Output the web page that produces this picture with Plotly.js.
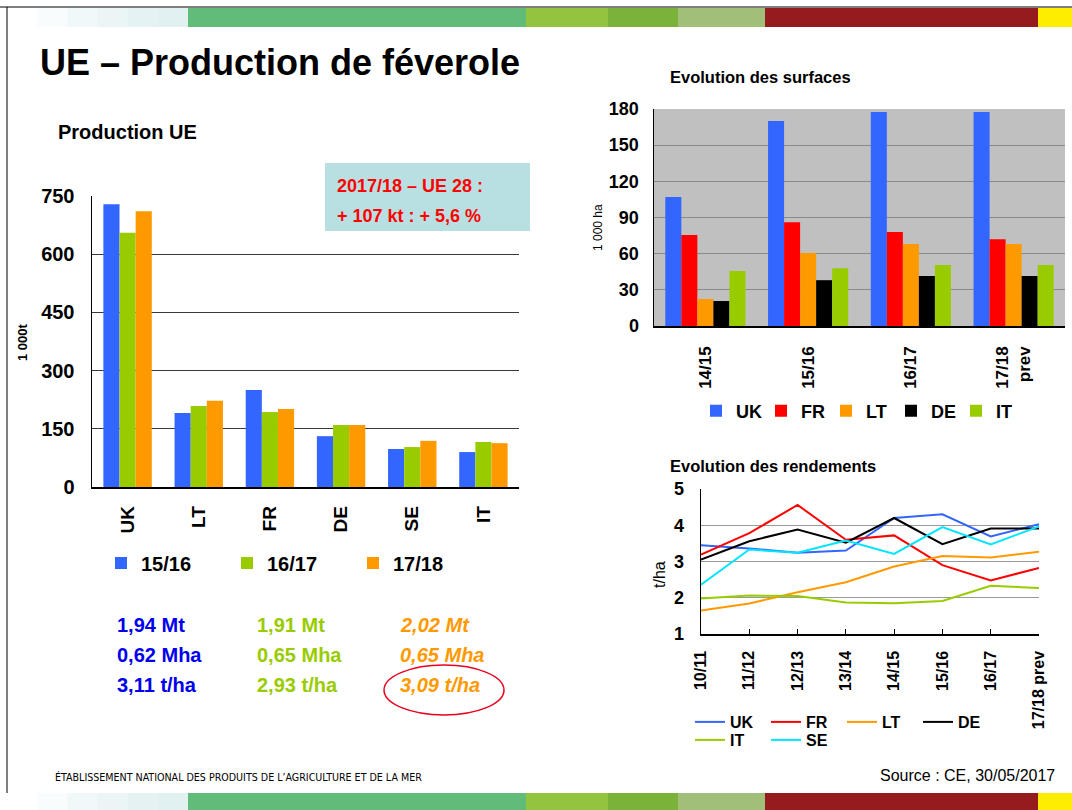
<!DOCTYPE html>
<html>
<head>
<meta charset="utf-8">
<script src="https://cdn.plot.ly/plotly-3.0.1.min.js"></script>
<style>html,body{margin:0;padding:0;background:#fff;}#chart{width:1072px;height:810px;}</style>
</head>
<body>
<div id="chart"></div>
<script>
// ---- Production UE (1 000 t)
const prodCountries = ['UK','LT','FR','DE','SE','IT'];
const prodSeasons = ['15/16','16/17','17/18'];
const prod1516 = [729,191,250,131,98,90];
const prod1617 = [655,209,193,160,103,116];
const prod1718 = [711,222,201,160,119,113];
const prodTicks = [0,150,300,450,600,750];

// ---- Evolution des surfaces (1 000 ha)
const surfYears = ['14/15','15/16','16/17','17/18<br>prev'];
const surfCountries = ['UK','FR','LT','DE','IT'];
const surfUK = [107,170,177.5,177.5];
const surfFR = [75.5,86,78,72];
const surfLT = [22.4,60.6,68,68];
const surfDE = [20.7,38,41.5,41.5];
const surfIT = [45.6,48,50.5,50.5];
const surfTicks = [0,30,60,90,120,150,180];

// ---- Evolution des rendements (t/ha)
const rendYears = ['10/11','11/12','12/13','13/14','14/15','15/16','16/17','17/18 prev'];
const rendCountries = ['UK','FR','LT','DE','IT','SE'];
const rendUK = [3.45,3.36,3.24,3.30,4.20,4.30,3.69,4.03];
const rendFR = [3.19,3.78,4.56,3.60,3.72,2.90,2.48,2.82];
const rendLT = [1.65,1.84,2.15,2.43,2.86,3.15,3.11,3.27];
const rendDE = [3.05,3.56,3.88,3.52,4.20,3.48,3.91,3.91];
const rendIT = [1.98,2.06,2.05,1.87,1.85,1.91,2.33,2.27];
const rendSE = [2.36,3.33,3.24,3.58,3.21,3.95,3.47,3.97];
const rendTicks = [1,2,3,4,5];

// ---- Summary figures
const sumProd = ['1,94 Mt','1,91 Mt','2,02 Mt'];
const sumSurf = ['0,62 Mha','0,65 Mha','0,65 Mha'];
const sumYield = ['3,11 t/ha','2,93 t/ha','3,09 t/ha'];

// ---- helpers (pixel -> paper)
const W = 1072, H = 810;
const X = p => p / W;
const Y = p => 1 - p / H;
const FONT = 'Liberation Sans, Arial, sans-serif';

const cBlue = '#3366ff', cGreen = '#99cc00', cOrange = '#ff9900', cRed = '#ff0000', cBlack = '#000000', cCyan = '#00e5ff';

const traces = [];
// Production
[[prod1516, cBlue],[prod1617, cGreen],[prod1718, cOrange]].forEach((s, i) => {
  traces.push({type:'bar', x: prodCountries, y: s[0], name: prodSeasons[i], marker:{color:s[1], line:{width:0}},
    xaxis:'x', yaxis:'y', legend:'legend'});
});
// Surfaces
const surfCols = [cBlue, cRed, cOrange, cBlack, cGreen];
[surfUK, surfFR, surfLT, surfDE, surfIT].forEach((s, i) => {
  traces.push({type:'bar', x: surfYears, y: s, name: surfCountries[i], marker:{color:surfCols[i], line:{width:0}},
    width: 0.156, offset: -0.39 + i*0.156, xaxis:'x2', yaxis:'y2', legend:'legend2'});
});
// Rendements
const rendCols = [cBlue, cRed, cOrange, cBlack, cGreen, cCyan];
[rendUK, rendFR, rendLT, rendDE, rendIT, rendSE].forEach((s, i) => {
  traces.push({type:'scatter', mode:'lines', x: rendYears, y: s, name: rendCountries[i],
    line:{color:rendCols[i], width:2}, xaxis:'x3', yaxis:'y3', legend: i < 4 ? 'legend3' : 'legend4'});
});

const shapes = [];
// top/bottom decorative bands
const bandSegs = [[188,526,'#62bc79'],[526,608,'#92c43e'],[608,678,'#7bb239'],[678,765,'#a2bf7a'],[765,1038,'#961b1f'],[1038,1072,'#ffed00']];
const gradCols = ['#ffffff','#f8fcfc','#f1f8f9','#ebf5f6','#e5f2f3','#e1f0f1'];
[[8,27],[793,810]].forEach(b => {
  gradCols.forEach((c, k) => {
    const x0 = 7 + k*(181/6), x1 = 7 + (k+1)*(181/6) + 0.5;
    shapes.push({type:'rect', xref:'paper', yref:'paper', x0:X(x0), x1:X(x1), y0:Y(b[1]), y1:Y(b[0]), fillcolor:c, line:{width:0}, layer:'below'});
  });
  bandSegs.forEach(s => shapes.push({type:'rect', xref:'paper', yref:'paper', x0:X(s[0]), x1:X(s[1]), y0:Y(b[1]), y1:Y(b[0]), fillcolor:s[2], line:{width:0}, layer:'below'}));
});
// frame lines
shapes.push({type:'line', xref:'paper', yref:'paper', x0:0, x1:1, y0:Y(7), y1:Y(7), line:{color:'#000', width:1}});
shapes.push({type:'line', xref:'paper', yref:'paper', x0:X(7), x1:X(7), y0:Y(7), y1:Y(793), line:{color:'#000', width:1}});
// gray background of surfaces chart
shapes.push({type:'rect', xref:'x2 domain', yref:'y2 domain', x0:0, x1:1, y0:0, y1:1, fillcolor:'#c0c0c0', line:{width:0}, layer:'below'});
// info box
shapes.push({type:'rect', xref:'paper', yref:'paper', x0:X(325), x1:X(530), y0:Y(231), y1:Y(163), fillcolor:'#b8e0e2', line:{width:0}, layer:'above'});
// red ellipse
shapes.push({type:'circle', xref:'paper', yref:'paper', x0:X(384), x1:X(504), y0:Y(715), y1:Y(665), line:{color:'#e8001c', width:1.5}, layer:'above'});

const ann = (text, px, py, opts) => Object.assign({text, xref:'paper', yref:'paper', x:X(px), y:Y(py), xanchor:'left', yanchor:'middle', showarrow:false,
  font:{family:FONT, size:14, color:'#000'}}, opts || {});

const annotations = [
  ann('UE – Production de féverole', 38, 63, {font:{family:FONT, size:36, color:'#000', weight:'bold'}}),
  ann('Production UE', 56, 132, {font:{family:FONT, size:20, color:'#000', weight:'bold'}}),
  ann('Evolution des surfaces', 668, 77, {font:{family:FONT, size:16.5, color:'#000', weight:'bold'}}),
  ann('Evolution des rendements', 668, 466, {font:{family:FONT, size:16.5, color:'#000', weight:'bold'}}),
  ann('2017/18 – UE 28 :', 335, 186, {font:{family:FONT, size:18, color:'#ff0000', weight:'bold'}}),
  ann('+ 107 kt : + 5,6 %', 335, 216, {font:{family:FONT, size:18, color:'#ff0000', weight:'bold'}}),
  ann('1 000t', 22, 342, {xanchor:'center', textangle:-90, font:{family:FONT, size:13, color:'#000', weight:'bold'}}),
  ann('1 000 ha', 598, 228, {xanchor:'center', textangle:-90, font:{family:FONT, size:12, color:'#000'}}),
  ann('t/ha', 659, 575, {xanchor:'center', textangle:-90, font:{family:FONT, size:16, color:'#000'}}),
  ann('ÉTABLISSEMENT NATIONAL DES PRODUITS DE L\u2019AGRICULTURE ET DE LA MER', 53, 777, {font:{family:'Liberation Sans Narrow, DejaVu Sans Condensed, sans-serif', size:10.6, color:'#000'}}),
  ann('Source : CE, 30/05/2017', 878, 775, {font:{family:FONT, size:16, color:'#000'}})
];
const sumCols = ['#0000ee', '#99cc00', '#ff9900'];
const sumX = [115, 255, 398];
[sumProd, sumSurf, sumYield].forEach((row, r) => {
  row.forEach((t, c) => {
    annotations.push(ann(c === 2 ? '<i>' + t + '</i>' : t, sumX[c], 625 + r*30,
      {font:{family:FONT, size:20, color:sumCols[c], weight:'bold'}}));
  });
});

const tickBold = s => ({family:FONT, size:s, color:'#000', weight:'bold'});
const legendBase = (px, py, size, ew) => ({orientation:'h', x:X(px), y:Y(py), xanchor:'left', yanchor:'middle',
  font:tickBold(size), entrywidth:ew, bgcolor:'rgba(0,0,0,0)', borderwidth:0, traceorder:'normal', itemclick:false});

const layout = {
  width: W, height: H,
  margin:{l:0, r:0, t:0, b:0},
  paper_bgcolor:'#ffffff', plot_bgcolor:'rgba(0,0,0,0)',
  font:{family:FONT},
  barmode:'group', bargap:0.32, bargroupgap:0,
  showlegend:true,
  xaxis:{domain:[X(92), X(519)], anchor:'y', type:'category', range:[-0.5,5.5], showline:true, linecolor:'#000', linewidth:1.5,
    ticks:'', tickangle:-90, tickfont:tickBold(19), ticklabelstandoff:10, showgrid:false, fixedrange:true},
  yaxis:{domain:[Y(487), Y(196)], anchor:'x', range:[0,750], tickvals:prodTicks, showline:true, linecolor:'#000', linewidth:1.5,
    ticks:'', tickfont:tickBold(20), ticklabelstandoff:12, showgrid:true, gridcolor:'#3a3a3a', gridwidth:1.2, zeroline:false, fixedrange:true},
  xaxis2:{domain:[X(654), X(1065)], anchor:'y2', type:'category', range:[-0.5,3.5], showline:true, linecolor:'#000', linewidth:1.5,
    ticks:'', tickangle:-90, tickfont:tickBold(17), ticklabelstandoff:12, showgrid:false, fixedrange:true},
  yaxis2:{domain:[Y(326), Y(109)], anchor:'x2', range:[0,180], tickvals:surfTicks, showline:true, linecolor:'#000', linewidth:1.5,
    ticks:'', tickfont:tickBold(18), ticklabelstandoff:10, showgrid:true, gridcolor:'#8a8a8a', gridwidth:1, zeroline:false, fixedrange:true},
  xaxis3:{domain:[X(701), X(1039)], anchor:'y3', type:'category', range:[0,7], showline:true, linecolor:'#000', linewidth:1.5,
    ticks:'inside', ticklen:5, tickcolor:'#000', tickangle:-90, tickfont:tickBold(16), ticklabelstandoff:9, showgrid:false, fixedrange:true},
  yaxis3:{domain:[Y(634), Y(489)], anchor:'x3', range:[1,5], tickvals:rendTicks, showline:true, linecolor:'#000', linewidth:1.5,
    ticks:'', tickfont:tickBold(18), ticklabelstandoff:12, showgrid:true, gridcolor:'#9a9a9a', gridwidth:1, zeroline:false, fixedrange:true},
  legend: legendBase(101, 563, 20, 81),
  legend2: legendBase(696, 411, 18, 20),
  legend3: legendBase(690, 722, 16, 31),
  legend4: legendBase(690, 740, 16, 31),
  shapes, annotations
};

Plotly.newPlot('chart', traces, layout, {displayModeBar:false, staticPlot:true});
</script>
</body>
</html>
